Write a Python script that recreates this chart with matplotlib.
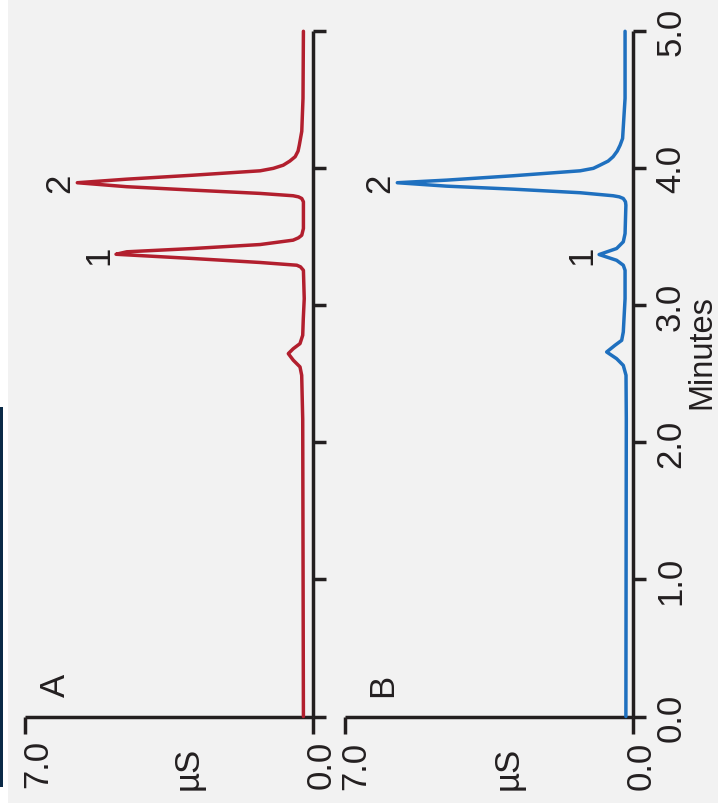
import numpy as np
import matplotlib
matplotlib.use('Agg')
import matplotlib.pyplot as plt
from matplotlib.patches import Rectangle

plt.rcParams['font.family'] = ['Liberation Sans', 'DejaVu Sans']
plt.rcParams['font.size'] = 25

# ---------------- data ----------------
time_ticks = [0.0, 1.0, 2.0, 3.0, 4.0, 5.0]
time_tick_labels = ['0.0', '1.0', '2.0', '3.0', '4.0', '5.0']
us_ticks = [7.0, 0.0]
us_tick_labels = ['7.0', '0.0']
panel_labels = ['A', 'B']
peak_names = ['1', '2']
peak_times = [3.37, 3.89]

# Panel A (red trace): retention time (min) and conductivity (µS)
time_A = [0.00, 2.17, 2.49, 2.551, 2.600, 2.648, 2.684, 2.721, 2.782, 2.903, 3.049,
          3.256, 3.281, 3.293, 3.313, 3.342, 3.373, 3.391, 3.415, 3.444, 3.476, 3.493,
          3.512, 3.561, 3.731, 3.756, 3.780, 3.792, 3.800, 3.817, 3.841, 3.866, 3.895,
          3.921, 3.950, 3.982, 4.000, 4.023, 4.053, 4.085, 4.126, 4.169, 4.270, 4.511, 5.00]
cond_A = [0.24, 0.257, 0.282, 0.323, 0.486, 0.607, 0.486, 0.323, 0.257, 0.243, 0.22,
          0.24, 0.31, 0.40, 1.29, 2.92, 4.79, 4.53, 2.92, 1.29, 0.49, 0.36,
          0.28, 0.24, 0.24, 0.24, 0.28, 0.36, 0.49, 1.29, 2.92, 4.53, 5.73,
          4.53, 2.92, 1.29, 0.97, 0.73, 0.57, 0.44, 0.37, 0.34, 0.28, 0.25, 0.24]

# Panel B (blue trace)
time_B = [0.00, 2.17, 2.49, 2.562, 2.611, 2.660, 2.709, 2.745, 2.806, 3.049,
          3.256, 3.293, 3.329, 3.371, 3.415, 3.464, 3.524,
          3.731, 3.756, 3.780, 3.792, 3.800, 3.822, 3.848, 3.870, 3.895, 3.914, 3.946,
          3.982, 4.000, 4.023, 4.053, 4.085, 4.126, 4.169, 4.218, 4.511, 5.00]
cond_B = [0.18, 0.17, 0.177, 0.243, 0.405, 0.647, 0.444, 0.282, 0.243, 0.20,
          0.20, 0.243, 0.405, 0.83, 0.405, 0.243, 0.20,
          0.18, 0.19, 0.243, 0.34, 0.49, 1.29, 2.91, 4.53, 5.73, 4.53, 2.91,
          1.29, 0.97, 0.81, 0.61, 0.49, 0.39, 0.32, 0.26, 0.20, 0.20]

# ---------------- styling ----------------
W, H = 718, 804
BG = '#f2f2f2'
AX = '#231f20'
RED = '#b21f2e'
BLUE = '#1f70bf'

fig = plt.figure(figsize=(W / 100, H / 100), dpi=100, facecolor=BG)

# left edge strips
fig.patches.append(Rectangle((0, 0), 8 / W, 1, transform=fig.transFigure,
                             facecolor='white', edgecolor='none'))
fig.patches.append(Rectangle((0, 16 / H), 3.3 / W, 380 / H, transform=fig.transFigure,
                             facecolor='#0b2a47', edgecolor='none'))


def rect(x0, x1, ytop, ybot):
    return [x0 / W, 1 - ybot / H, (x1 - x0) / W, (ybot - ytop) / H]


axA = fig.add_axes(rect(25, 313.3, 32.3, 717.5))
axB = fig.add_axes(rect(345, 633.3, 32.3, 717.5))

rot = dict(rotation=90, rotation_mode='anchor', va='baseline', color=AX)

panels = [
    (axA, time_A, cond_A, RED, panel_labels[0], (40, 32.5), [(22, -22), (17, -23)]),
    (axB, time_B, cond_B, BLUE, panel_labels[1], (47, 32.5), [(20, -24), (17, -24)]),
]

for i, (ax, t, c, col, plabel, ploff, boffs) in enumerate(panels):
    ax.set_facecolor('none')
    ax.plot(c, t, color=col, lw=2.5, solid_joinstyle='round',
            solid_capstyle='round', clip_on=False, zorder=3)
    ax.set_xlim(7.0, 0.0)
    ax.set_ylim(0.0, 5.0)
    for s in ['top', 'left']:
        ax.spines[s].set_visible(False)
    for s in ['right', 'bottom']:
        ax.spines[s].set_linewidth(2.5)
        ax.spines[s].set_color(AX)
        ax.spines[s].set_capstyle('butt')

    ax.set_xticks(us_ticks)
    ax.tick_params(axis='x', direction='out', length=12, width=2.5, color=AX,
                   labelbottom=False)
    ax.yaxis.tick_right()
    if i == 1:
        ax.set_yticks(time_ticks, labels=time_tick_labels, rotation=90,
                      va='center', ha='left')
    else:
        ax.set_yticks(time_ticks)
    ax.tick_params(axis='y', which='both', direction='out', length=9.5, width=2.5,
                   color=AX, right=True, left=False, labelleft=False,
                   labelright=(i == 1), pad=5.5, labelcolor=AX)

    # µS end labels
    for val, lab, (dx, dy) in zip(us_ticks, us_tick_labels, boffs):
        ax.annotate(lab, xy=(val, 0), xycoords='data', xytext=(dx, dy),
                    textcoords='offset pixels', ha='right', annotation_clip=False, **rot)
    # µS axis title
    ax.annotate('µS', xy=(0.60, 0), xycoords='axes fraction', xytext=(0, -51),
                textcoords='offset pixels', ha='center', annotation_clip=False, **rot)
    # panel label
    ax.annotate(plabel, xy=(0, 0), xycoords='axes fraction', xytext=ploff,
                textcoords='offset pixels', ha='center', annotation_clip=False, **rot)
    # peak labels
    ta = np.asarray(t)
    ca = np.asarray(c)
    for name, pt in zip(peak_names, peak_times):
        m = np.abs(ta - pt) < 0.1
        idx = np.where(m)[0][np.argmax(ca[m])]
        ax.annotate(name, xy=(ca[idx], ta[idx]), xycoords='data', xytext=(-8, 0),
                    textcoords='offset pixels', ha='center', annotation_clip=False, **rot)

axB.annotate('Minutes', xy=(1, 0.534), xycoords='axes fraction', xytext=(77.5, 0),
             textcoords='offset pixels', ha='center', annotation_clip=False,
             fontsize=23.5, **rot)

fig.savefig('out.png', dpi=100, facecolor=BG)
